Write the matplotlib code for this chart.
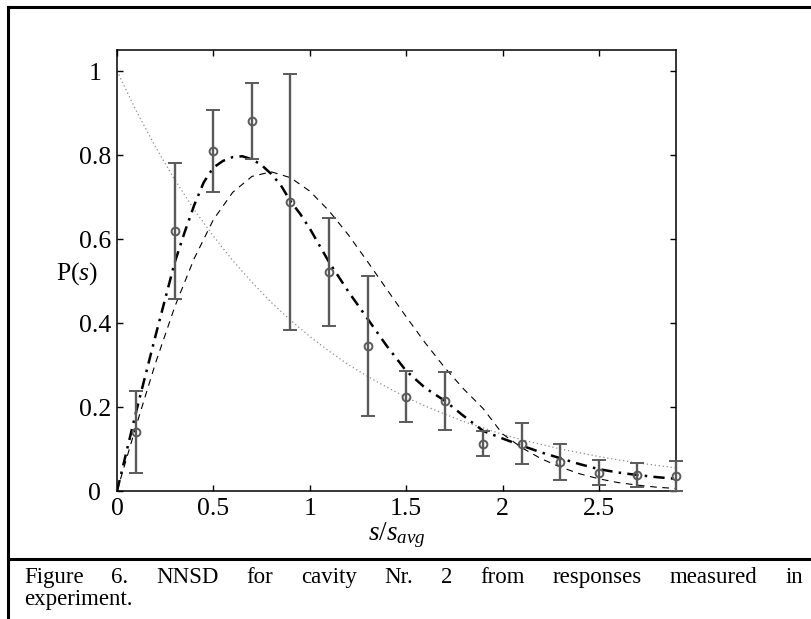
import matplotlib
matplotlib.use("Agg")
import matplotlib.pyplot as plt
from matplotlib.lines import Line2D

plt.rcParams['font.family'] = ['Liberation Serif', 'DejaVu Serif']
plt.rcParams['mathtext.fontset'] = 'custom'
plt.rcParams['mathtext.rm'] = 'Liberation Serif'
plt.rcParams['mathtext.it'] = 'Liberation Serif:italic'

# ---- data ----
s_points = [0.1, 0.3, 0.5, 0.7, 0.9, 1.1, 1.3, 1.5, 1.7, 1.9, 2.1, 2.3, 2.5, 2.7, 2.9]
p_points = [0.141, 0.620, 0.810, 0.881, 0.688, 0.521, 0.345, 0.225, 0.214, 0.113,
            0.113, 0.070, 0.044, 0.038, 0.036]
p_err = [0.097, 0.162, 0.097, 0.091, 0.304, 0.128, 0.167, 0.061, 0.069, 0.030,
         0.049, 0.043, 0.030, 0.028, 0.036]

s_curve = [0.0, 0.1, 0.2, 0.3, 0.4, 0.5, 0.6, 0.7, 0.8, 0.9, 1.0, 1.1, 1.2, 1.3, 1.4,
           1.5, 1.6, 1.7, 1.8, 1.9, 2.0, 2.1, 2.2, 2.3, 2.4, 2.5, 2.6, 2.7, 2.8, 2.9]
poisson = [1.000, 0.905, 0.819, 0.741, 0.670, 0.607, 0.549, 0.497, 0.449, 0.407,
           0.368, 0.333, 0.301, 0.273, 0.247, 0.223, 0.202, 0.183, 0.165, 0.150,
           0.135, 0.122, 0.111, 0.100, 0.091, 0.082, 0.074, 0.067, 0.061, 0.055]
wigner = [0.000, 0.156, 0.305, 0.439, 0.553, 0.646, 0.711, 0.749, 0.760, 0.746,
          0.714, 0.667, 0.610, 0.546, 0.480, 0.415, 0.352, 0.294, 0.242, 0.196,
          0.136, 0.103, 0.077, 0.057, 0.041, 0.029, 0.020, 0.014, 0.009, 0.006]

s_fit = [0.0, 0.1, 0.2, 0.3, 0.35, 0.4, 0.45, 0.5, 0.55, 0.6, 0.65, 0.7, 0.75, 0.8,
         0.85, 0.9, 0.95, 1.0, 1.1, 1.2, 1.3, 1.4, 1.5, 1.6, 1.7, 1.8, 1.9, 2.0,
         2.1, 2.2, 2.3, 2.4, 2.5, 2.6, 2.7, 2.8, 2.9]
fit = [0.000, 0.190, 0.370, 0.545, 0.615, 0.680, 0.735, 0.770, 0.786, 0.795, 0.797,
       0.790, 0.776, 0.755, 0.728, 0.690, 0.660, 0.625, 0.545, 0.475, 0.410, 0.345,
       0.286, 0.245, 0.215, 0.178, 0.143, 0.125, 0.108, 0.092, 0.078, 0.064, 0.052,
       0.044, 0.038, 0.033, 0.029]

x_ticks = [0, 0.5, 1, 1.5, 2, 2.5]
x_ticklabels = ['0', '0.5', '1', '1.5', '2', '2.5']
y_ticks = [0, 0.2, 0.4, 0.6, 0.8, 1]
y_ticklabels = ['0', '0.2', '0.4', '0.6', '0.8', '1']

caption_line1 = "Figure 6. NNSD for cavity Nr. 2 from responses measured in"
caption_line2 = "experiment."

W, H = 811, 619
fig = plt.figure(figsize=(W / 100, H / 100), dpi=100)
fig.patch.set_facecolor('white')

ax = fig.add_axes([117 / W, 1 - 491 / H, 559 / W, 441 / H])

ax.plot(s_curve, poisson, linestyle=(0, (1, 2.2)), color='#8a8a8a', lw=0.9)
ax.plot(s_curve, wigner, linestyle=(0, (6, 5)), color='black', lw=0.8)
ax.plot(s_fit, fit, linestyle=(0, (4.5, 2.5, 1, 2.5)), color='black', lw=1.8)

ax.errorbar(s_points, p_points, yerr=p_err, fmt='o', color='#5a5a5a',
            ecolor='#5a5a5a', elinewidth=1.7, capsize=4.8, capthick=1.7,
            markersize=5.6, markerfacecolor='none', markeredgewidth=1.4,
            clip_on=False, zorder=3)

ax.set_xlim(0, 2.9)
ax.set_ylim(0, 1.05)
ax.set_xticks(x_ticks)
ax.set_xticklabels(x_ticklabels)
ax.set_yticks(y_ticks)
ax.set_yticklabels(y_ticklabels)
ax.tick_params(direction='in', length=4, width=1, top=True, right=True,
               labelsize=18.5, colors='black')
ax.tick_params(axis='x', pad=5)
ax.tick_params(axis='y', pad=16)
for t in ax.get_yticklabels():
    t.set_ha('center')
for sp in ax.spines.values():
    sp.set_linewidth(1.1)

ax.set_ylabel(r'P($s$)', fontsize=18.5, rotation=0, labelpad=0, va='center', ha='center')
ax.yaxis.set_label_coords((77 - 117) / 559, (491 - 274) / 441)
ax.set_xlabel(r'$s/s_{avg}$', fontsize=19.5)
ax.xaxis.set_label_coords(0.5, -(540 - 491) / 441)
ax.xaxis.label.set_va('baseline')

# frame lines of the figure box
fig.add_artist(Line2D([8 / W, 8 / W], [0, 1 - 7 / H], color='black', lw=2.2))
fig.add_artist(Line2D([8 / W, 1], [1 - 7 / H, 1 - 7 / H], color='black', lw=2.2))
fig.add_artist(Line2D([8 / W, 1], [1 - 559 / H, 1 - 559 / H], color='black', lw=2.2))

# justified caption
fs = 16.5
words = caption_line1.split()
texts = [fig.text(0, 1 - 583 / H, w, fontsize=fs, va='baseline', ha='left') for w in words]
fig.canvas.draw()
r = fig.canvas.get_renderer()
widths = [t.get_window_extent(r).width for t in texts]
x0, x1 = 24, 803
gap = (x1 - x0 - sum(widths)) / (len(words) - 1)
x = x0
for t, wdt in zip(texts, widths):
    t.set_x(x / W)
    x += wdt + gap
fig.text(x0 / W, 1 - 605 / H, caption_line2, fontsize=fs, va='baseline', ha='left')

fig.savefig('out.png', dpi=100)
